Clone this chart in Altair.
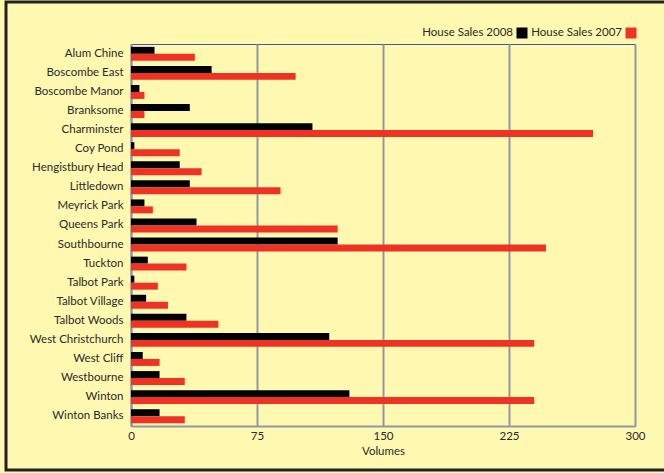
import altair as alt
import pandas as pd

areas = ["Alum Chine", "Boscombe East", "Boscombe Manor", "Branksome", "Charminster",
         "Coy Pond", "Hengistbury Head", "Littledown", "Meyrick Park", "Queens Park",
         "Southbourne", "Tuckton", "Talbot Park", "Talbot Village", "Talbot Woods",
         "West Christchurch", "West Cliff", "Westbourne", "Winton", "Winton Banks"]
sales_2008 = [14, 48, 5, 35, 108, 2, 29, 35, 8, 39, 123, 10, 2, 9, 33, 118, 7, 17, 130, 17]
sales_2007 = [38, 98, 8, 8, 275, 29, 42, 89, 13, 123, 247, 33, 16, 22, 52, 240, 17, 32, 240, 32]
series = ["House Sales 2008", "House Sales 2007"]
colors = ["#000000", "#EE3325"]

rows = []
for a, v8, v7 in zip(areas, sales_2008, sales_2007):
    rows.append({"area": a, "series": series[0], "value": v8})
    rows.append({"area": a, "series": series[1], "value": v7})
df = pd.DataFrame(rows)

FONT = "Lato"
FS = 11.5
YELLOW = "#FFF8B0"
TEXT = "#2a2a2a"

frame = alt.Chart(alt.Data(values=[{}])).mark_rect(
    fillOpacity=0, stroke="#222222", strokeWidth=3
).encode(x=alt.value(-125), x2=alt.value(560), y=alt.value(-42), y2=alt.value(426))

bars = alt.Chart(df).mark_bar().encode(
    y=alt.Y("area:N", sort=areas, title=None,
            scale=alt.Scale(paddingInner=0.27, paddingOuter=0.15),
            axis=alt.Axis(ticks=False, labelPadding=8, domainColor="#8E99A3", domainWidth=2,
                          labelFont=FONT, labelFontSize=FS, labelColor=TEXT)),
    yOffset=alt.YOffset("series:N", sort=series),
    x=alt.X("value:Q", title="Volumes",
            scale=alt.Scale(domain=[0, 300], nice=False),
            axis=alt.Axis(values=[0, 75, 150, 225, 300], ticks=False, grid=True,
                          labelFlush=False,
                          gridColor="#8E99A3", gridWidth=2, domainColor="#8E99A3",
                          domainWidth=2, labelFont=FONT, labelFontSize=FS,
                          labelColor=TEXT, labelPadding=4,
                          titleFont=FONT, titleFontSize=FS, titleFontWeight="normal",
                          titleColor=TEXT, titlePadding=4)),
    color=alt.Color("series:N", scale=alt.Scale(domain=series, range=colors), legend=None),
)

legend_layers = []
for name, col, tx, sx in zip(series, colors, [382, 491], [391, 500]):
    one = alt.Data(values=[{"s": name}])
    legend_layers.append(alt.Chart(one).mark_text(
        align="right", baseline="middle", font=FONT, fontSize=FS, color=TEXT
    ).encode(x=alt.value(tx), y=alt.value(-11), text="s:N"))
    legend_layers.append(alt.Chart(one).mark_square(size=121, opacity=1, color=col).encode(
        x=alt.value(sx), y=alt.value(-11)))

chart = alt.layer(bars, frame, *legend_layers).properties(
    width=504, height=382,
    autosize=alt.AutoSizeParams(type="none"),
    padding={"left": 131, "top": 44, "right": 29, "bottom": 47},
    background=YELLOW,
).configure_view(stroke="#3B5BA5", strokeWidth=1)

chart.save("out.html", embed_options={"renderer": "svg", "actions": False})
